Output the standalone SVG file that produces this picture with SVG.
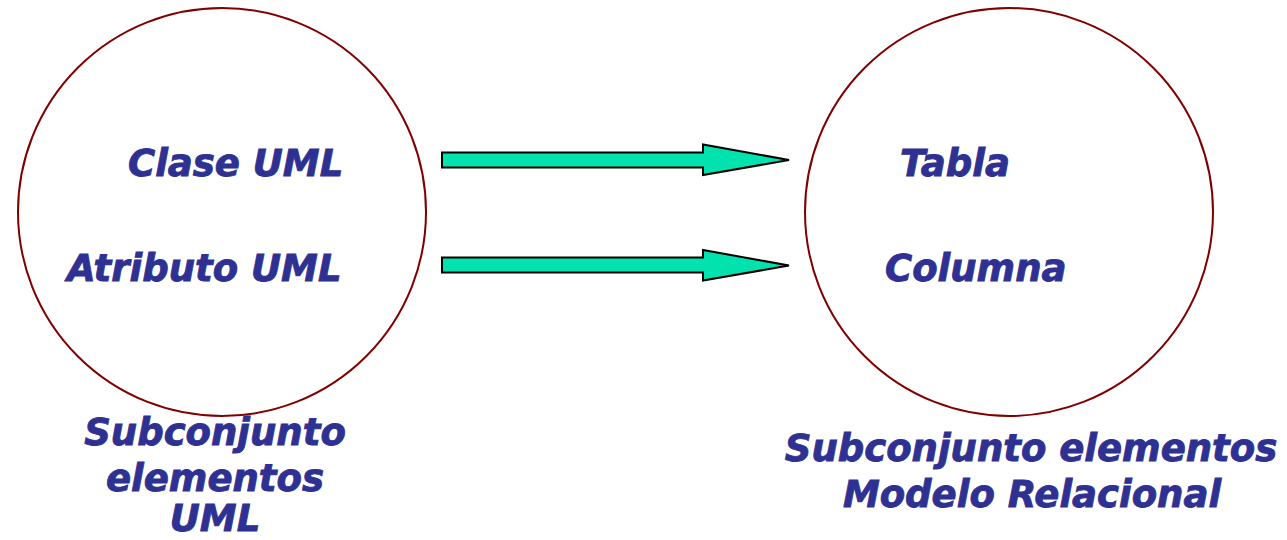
<svg xmlns="http://www.w3.org/2000/svg" width="1287" height="540" viewBox="0 0 1287 540">
<style>
.t{font-family:"DejaVu Sans","Liberation Sans",sans-serif;font-weight:bold;font-style:italic;font-size:37px;fill:#2E3192;stroke:#2E3192;stroke-width:0.9}
.c{fill:none;stroke:#800000;stroke-width:2}
.a{fill:#00E3AE;stroke:#000;stroke-width:2;stroke-linejoin:miter}
</style>
<rect width="1287" height="540" fill="#fff"/>
<g id="uml">
<circle class="c" cx="222" cy="212" r="204"/>
<text class="t" x="128" y="176">Clase UML</text>
<text class="t" x="67" y="281">Atributo UML</text>
<text class="t" x="215" y="445" text-anchor="middle">Subconjunto</text>
<text class="t" x="215" y="491" text-anchor="middle">elementos</text>
<text class="t" x="215" y="531" text-anchor="middle">UML</text>
</g>
<g id="relacional">
<circle class="c" cx="1009" cy="212" r="204"/>
<text class="t" x="900" y="176">Tabla</text>
<text class="t" x="885" y="281">Columna</text>
<text class="t" x="1031" y="461" text-anchor="middle">Subconjunto elementos</text>
<text class="t" x="1032" y="507" text-anchor="middle">Modelo Relacional</text>
</g>
<g id="connectors">
<polygon class="a" points="442,152.5 703,152.5 703,144.5 789,160 703,175 703,167.5 442,167.5"/>
<polygon class="a" points="442,257.5 703,257.5 703,250 789,265.5 703,280.5 703,272.5 442,272.5"/>
</g>
</svg>
